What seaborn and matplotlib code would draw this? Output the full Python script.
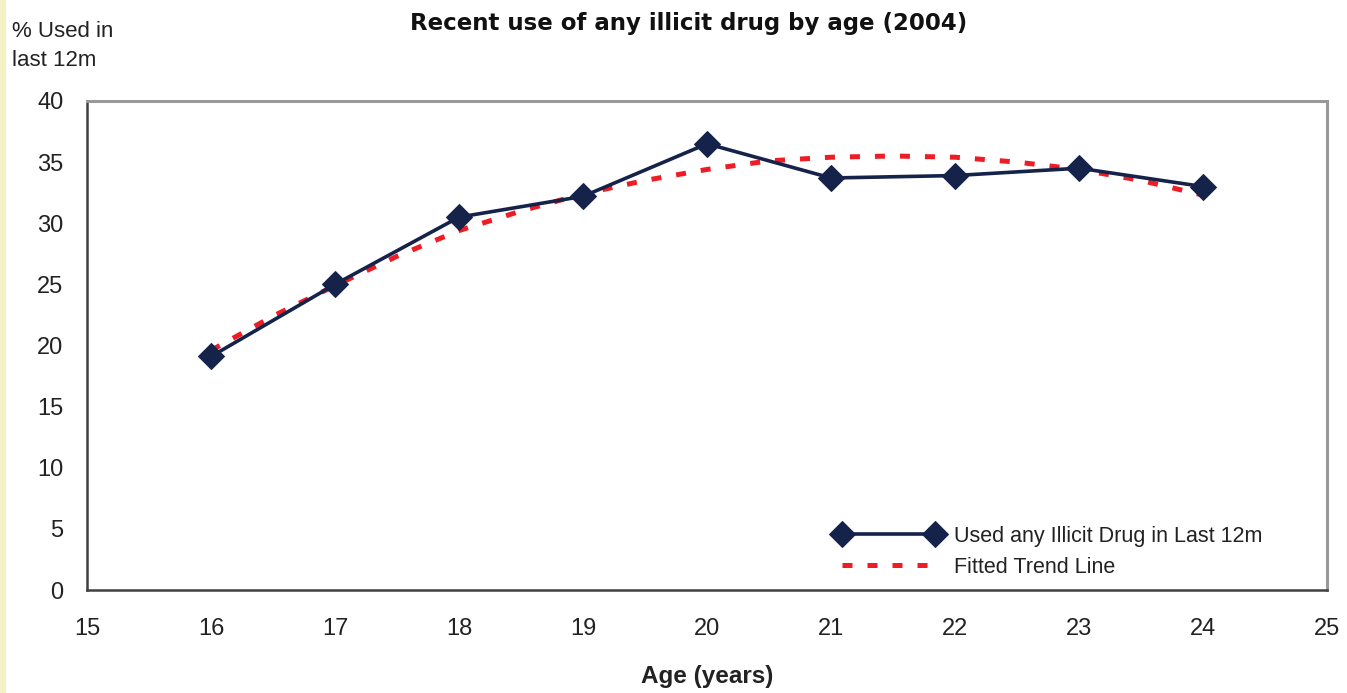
import matplotlib
matplotlib.use('Agg')
import matplotlib.pyplot as plt
import matplotlib.patches as mpatches
import pandas as pd
import seaborn as sns

# ---------------------------
# Data
# ---------------------------
ages = [16, 17, 18, 19, 20, 21, 22, 23, 24]
used_pct = [19.1, 25.0, 30.5, 32.2, 36.5, 33.7, 33.9, 34.5, 33.0]

trend_ages = [16, 16.5, 17, 17.5, 18, 18.5, 19, 19.5, 20, 20.5,
              21, 21.5, 22, 22.5, 23, 23.5, 24]
trend_pct = [19.6, 22.4, 24.9, 27.3, 29.4, 31.0, 32.4, 33.5, 34.4, 35.1,
             35.4, 35.5, 35.4, 35.0, 34.4, 33.5, 32.3]

x_ticks = [15, 16, 17, 18, 19, 20, 21, 22, 23, 24, 25]
y_ticks = [0, 5, 10, 15, 20, 25, 30, 35, 40]

df_used = pd.DataFrame({"Age": ages, "Pct": used_pct})
df_trend = pd.DataFrame({"Age": trend_ages, "Pct": trend_pct})

# ---------------------------
# Plot
# ---------------------------
sns.set_style("white")
plt.rcParams['font.family'] = ['Liberation Sans', 'DejaVu Sans']

navy = "#15234b"
red = "#ee1c25"
txt = "#222222"

fig = plt.figure(figsize=(13.47, 6.93), dpi=100)
ax = fig.add_axes([0.0646, 0.1486, 0.9206, 0.7057])

# thin yellow strip on the left edge
fig.patches.append(mpatches.Rectangle((0, 0), 0.004, 1, transform=fig.transFigure,
                                      color="#f2f2c4", zorder=0))

sns.lineplot(data=df_trend, x="Age", y="Pct", ax=ax, color=red,
             linewidth=3.6, label="Fitted Trend Line", zorder=2)
ax.lines[-1].set_dashes([2.0, 3.0])
sns.lineplot(data=df_used, x="Age", y="Pct", ax=ax, color=navy,
             linewidth=2.6, marker="D", markersize=13, markeredgecolor=navy,
             label="Used any Illicit Drug in Last 12m", zorder=3)

ax.set_xlim(15, 25)
ax.set_ylim(0, 40)
ax.set_xticks(x_ticks)
ax.set_yticks(y_ticks)
ax.tick_params(axis='both', direction='out', length=6, width=1.5,
               color="#303030", labelsize=17, labelcolor=txt)
ax.tick_params(axis='x', pad=14)
ax.tick_params(axis='y', pad=11)

for side in ["left", "bottom"]:
    ax.spines[side].set_color("#404040")
    ax.spines[side].set_linewidth(1.8)
for side in ["top", "right"]:
    ax.spines[side].set_color("#999999")
    ax.spines[side].set_linewidth(2.2)

ax.set_xlabel("Age (years)", fontsize=17.5, fontweight="bold", color=txt,
              labelpad=18)
ax.set_ylabel("")
fig.text(0.009, 0.97, "% Used in\nlast 12m", fontsize=16, color=txt,
         va="top", ha="left", linespacing=1.5)
fig.text(0.511, 0.983, "Recent use of any illicit drug by age (2004)",
         fontsize=16.5, fontweight="bold", color="#111111", ha="center",
         va="top", family=['DejaVu Sans'])

handles, labels = ax.get_legend_handles_labels()
ax.legend(handles[::-1], labels[::-1], loc="center left",
          bbox_to_anchor=(0.588, 0.078), frameon=False, fontsize=15.5,
          handlelength=4.9, numpoints=2, labelspacing=0.45, handletextpad=0.6,
          labelcolor=txt)

fig.savefig("out.png", dpi=100)
plt.close()
